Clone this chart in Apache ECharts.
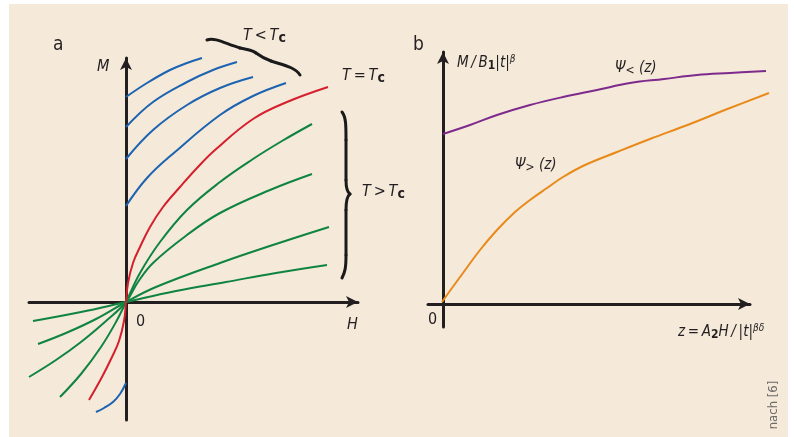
<!DOCTYPE html>
<html>
<head>
<meta charset="utf-8">
<script src="https://cdn.jsdelivr.net/npm/echarts@6/dist/echarts.min.js"></script>
<style>html,body{margin:0;padding:0;background:#fff}#container{width:794px;height:437px}</style>
</head>
<body>
<div id="container"></div>
<script>
// panel a: magnetisation M over field H (arbitrary units, origin at 0,0)
const blueUp1 = [[0,205],[21,219],[44,232],[61,239],[76,244]];
const blueUp2 = [[0,175],[27,200],[61,220],[87,232],[111,240]];
const blueUp3 = [[0,143],[27,172],[61,197],[94,214],[127,225]];
const blueUp4 = [[0,96],[21,124],[49,150],[94,187],[127,206],[160,219]];
const blueDown = [[-30,-110],[-22,-106],[-13,-100],[-6,-92],[0,-81]];
const redTc = [[-37,-98],[-24,-75],[-14,-55],[-7,-39],[-2,-19],[0,0],[2,19],[7,39],[14,55],[24,75],[37,95],[54,115],[71,134],[89,152],[127,183],[161,200],[202,215]];
const green1 = [[-66,-95],[-45,-72],[-25,-45],[-10,-20],[0,0],[14,29],[34,60],[61,92],[94,120],[127,143],[156,161],[186,178]];
const green2 = [[-97,-75],[-70,-58],[-45,-40],[-20,-19],[0,0],[12,20],[27,39],[61,67],[94,89],[144,112],[186,128]];
const green3 = [[-88,-42],[-60,-31],[-30,-17],[0,0],[30,15],[94,39],[150,58],[203,75]];
const green4 = [[-93,-19],[-45,-10],[0,0],[50,11],[100,20],[150,29],[201,37]];

// panel b: scaling functions over z
const psiLess = [[0,170],[27,179],[54,189],[87,199],[120,207],[154,214],[187,221],[221,225],[254,229],[287,231],[323,233]];
const psiGreater = [[-1,2],[9,16],[20,31],[37,54],[54,74],[72,92],[87,104],[104,116],[120,127],[142,139],[174,152],[207,165],[247,180],[287,196],[326,211]];

const ink = '#231f20';
const font = "'Liberation Sans Narrow', 'DejaVu Sans Condensed', sans-serif";
const thin = '\u2009';

const dom = document.getElementById('container');
const myChart = echarts.init(dom);

function axisStyle(grid, min, max, visible) {
  return {
    type: 'value', gridIndex: grid, min: min, max: max,
    axisLine: { show: visible, onZero: true, symbol: ['none', 'arrow'], symbolSize: [9, 12], lineStyle: { color: ink, width: 3 } },
    axisTick: { show: false }, axisLabel: { show: false }, splitLine: { show: false },
  };
}

function curve(data, color, grid) {
  return {
    type: 'line', data: data, xAxisIndex: grid, yAxisIndex: grid,
    smooth: 0.4, showSymbol: false, clip: false,
    lineStyle: { color: color, width: 2 }, z: 3,
  };
}

const blue = '#1c63b0', red = '#d4202c', green = '#0f8440';

const rich = {
  c: { fontFamily: font, fontSize: 14, fontWeight: 'bold', fill: ink, verticalAlign: 'bottom', lineHeight: 16 },
  s: { fontFamily: font, fontSize: 10, fontStyle: 'italic', fill: ink, verticalAlign: 'top', lineHeight: 16 },
  b: { fontFamily: font, fontSize: 12, fontWeight: 'bold', fill: ink, verticalAlign: 'bottom', lineHeight: 18 },
  l: { fontFamily: font, fontSize: 12, fill: ink, verticalAlign: 'bottom', lineHeight: 18 },
};

function label(x, y, text, size, italic) {
  return {
    type: 'text', x: x, y: y, z: 20,
    style: {
      text: text, fill: ink, fontFamily: font, fontSize: size || 16,
      fontStyle: italic === false ? 'normal' : 'italic',
      align: 'left', verticalAlign: 'middle', textAlign: 'left', textVerticalAlign: 'middle',
      lineHeight: 18, rich: rich,
    },
  };
}

// brace strokes as cubic segments [x1,y1,cp1x,cp1y,cp2x,cp2y,x2,y2]
const braceTop = [
  [207,40,215,37,226,44,240,48], [240,48,248,50,252,50,256,53],
  [256,53,260,56,263,58,271,61], [271,61,283,65,295,67,300,75],
];
const braceRight = [
  [342,112,346,117,346,125,346,140], [346,140,346,153,346,167,346,180],
  [346,180,346,188,347,192,350,194], [350,194,347,196,346,200,346,210],
  [346,210,346,225,346,240,346,255], [346,255,346,268,345,272,342,278],
];
function braceParts(segs) {
  return segs.map(function (s) {
    return { type: 'bezierCurve', z: 20,
      shape: { x1: s[0], y1: s[1], cpx1: s[2], cpy1: s[3], cpx2: s[4], cpy2: s[5], x2: s[6], y2: s[7] },
      style: { fill: 'none', stroke: '#1a1a1a', lineWidth: 3, lineCap: 'round' } };
  });
}

option = {
  backgroundColor: '#ffffff',
  animation: false,
  grid: [
    { left: 29, right: 436, top: 58, bottom: 17 },
    { left: 428, right: 44, top: 52, bottom: 110 },
    // same scale as grid 1, wider so the curves run past the arrow
    { left: 428, right: 25, top: 52, bottom: 110 },
  ],
  xAxis: [axisStyle(0, -97, 232, true), axisStyle(1, -15, 307, true), axisStyle(2, -15, 326, false)],
  yAxis: [axisStyle(0, -118, 244, true), axisStyle(1, -23, 252, true), axisStyle(2, -23, 252, false)],
  series: [
    curve(blueUp1, blue, 0), curve(blueUp2, blue, 0), curve(blueUp3, blue, 0),
    curve(blueUp4, blue, 0), curve(blueDown, blue, 0),
    curve(green1, green, 0), curve(green2, green, 0), curve(green3, green, 0), curve(green4, green, 0),
    curve(redTc, red, 0),
    curve(psiLess, '#7d2a8c', 2),
    curve(psiGreater, '#e88a1a', 2),
  ],
  graphic: [
    { type: 'rect', z: -10, shape: { x: 9, y: 4, width: 779, height: 433 }, style: { fill: '#f5e9da' } },
  ].concat(braceParts(braceTop), braceParts(braceRight), [
    label(53, 45, 'a', 19, false),
    label(97, 67, 'M'),
    label(243, 36, 'T' + thin + '<' + thin + 'T{c|c}'),
    label(342, 76, 'T' + thin + '=' + thin + 'T{c|c}'),
    label(362, 192, 'T' + thin + '>' + thin + 'T{c|c}'),
    label(136, 322, '0', 16, false),
    label(347, 325, 'H'),
    label(413, 45, 'b', 19, false),
    label(457, 63, 'M' + thin + '/' + thin + 'B{b|1}|t|{s|β}', 15),
    label(615, 68, 'Ψ{l|<} (z)', 15),
    label(515, 165, 'Ψ{l|>} (z)', 15),
    label(428, 320, '0', 16, false),
    label(678, 332, 'z' + thin + '=' + thin + 'A{b|2}H' + thin + '/' + thin + '|t|{s|βδ}', 15),
    { type: 'text', x: 774, y: 405, rotation: Math.PI / 2, z: 20,
      style: { text: 'nach [6]', fill: '#6d6a66', fontFamily: font, fontSize: 13,
        align: 'center', verticalAlign: 'middle', textAlign: 'center', textVerticalAlign: 'middle' } },
  ]),
};

if (option && typeof option === 'object') {
  myChart.setOption(option, true);
}
</script>
</body>
</html>
